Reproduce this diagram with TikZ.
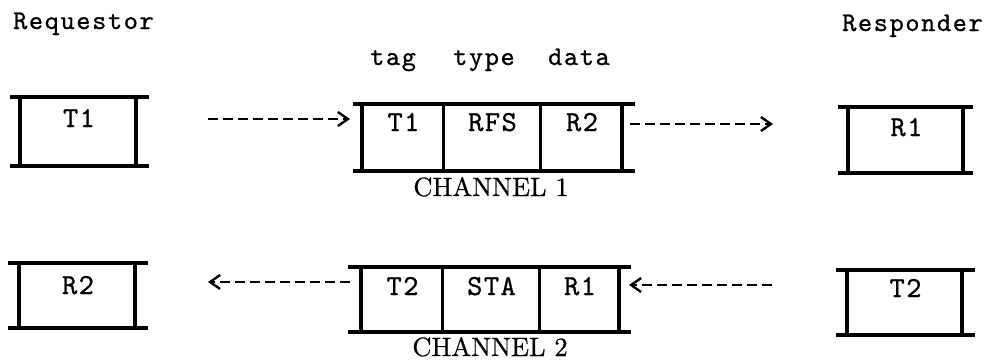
\documentclass[tikz,border=0pt]{standalone}
\usepackage{fontspec}
\newfontfamily\lblfont{lmmono10-regular.otf}[LetterSpace=6, FakeBold=0.8]
\newfontfamily\boxfont{lmmono10-regular.otf}[LetterSpace=5, FakeBold=0.8]
\newfontfamily\chanfont{lmroman10-regular.otf}[FakeBold=0.6]
\usetikzlibrary{arrows.meta}
\newcommand{\drawibox}[4]{% name-left, name-right, left ext, right ext
  \draw[bline] ([xshift=-#3pt]#1.north west) -- ([xshift=#4pt]#2.north east);
  \draw[bline] ([xshift=-#3pt]#1.south west) -- ([xshift=#4pt]#2.south east);
  \draw[bline] (#1.north west) -- (#1.south west);
  \draw[bline] (#2.north east) -- (#2.south east);
}
\tikzset{
  cell/.style={rectangle, draw=none, inner sep=0pt, outer sep=0pt},
  bline/.style={line width=3.2pt, line cap=rect},
  vline/.style={line width=3pt},
  lbl/.style={font=\lblfont\fontsize{27}{27}\selectfont, inner sep=0pt, anchor=base west},
  btext/.style={font=\boxfont\fontsize{29}{29}\selectfont, inner sep=0pt, anchor=base},
  chan/.style={font=\chanfont\fontsize{26.5}{26.5}\selectfont, inner sep=0pt, anchor=base},
  darr/.style={line width=2.8pt, dash pattern=on 10pt off 5pt,
    -{Straight Barb[length=10pt, width=14pt, line width=2.4pt]}},
}
\begin{document}
\begin{tikzpicture}[x=1pt, y=-1pt]
\useasboundingbox (0,0) rectangle (993,362);

% labels
\node[lbl] (req) at (13,29) {Requestor};
\node[lbl] (resp) at (842,31) {Responder};
\node[lbl] (tag) at (370,65) {tag};
\node[lbl] (type) at (453,65) {type};
\node[lbl] (data) at (548,65) {data};

% top row boxes
\node[cell, minimum width=116pt, minimum height=69pt] (t1) at (78,131.5) {};
\node[btext] (t1t) at (79,127) {T1};

\node[cell, minimum width=81pt, minimum height=67pt] (c1a) at (402.5,137.5) {};
\node[cell, minimum width=97pt, minimum height=67pt] (c1b) at (491.5,137.5) {};
\node[cell, minimum width=82pt, minimum height=67pt] (c1c) at (581,137.5) {};
\node[btext] (c1at) at (403.5,131) {T1};
\node[btext] (c1bt) at (492.5,131) {RFS};
\node[btext] (c1ct) at (582,131) {R2};
\node[chan] (ch1) at (491,196) {CHANNEL 1};

\node[cell, minimum width=115pt, minimum height=66pt] (r1) at (905.5,140) {};
\node[btext] (r1t) at (906.5,136) {R1};

% bottom row boxes
\node[cell, minimum width=116pt, minimum height=65pt] (r2) at (77,295.5) {};
\node[btext] (r2t) at (78,294) {R2};

\node[cell, minimum width=81pt, minimum height=65pt] (c2a) at (401.5,299.5) {};
\node[cell, minimum width=97pt, minimum height=65pt] (c2b) at (490.5,299.5) {};
\node[cell, minimum width=80pt, minimum height=65pt] (c2c) at (579,299.5) {};
\node[btext] (c2at) at (402.5,295) {T2};
\node[btext] (c2bt) at (491.5,295) {STA};
\node[btext] (c2ct) at (580,295) {R1};
\node[chan] (ch2) at (490,356) {CHANNEL 2};

\node[cell, minimum width=115pt, minimum height=65pt] (t2) at (904.5,302.5) {};
\node[btext] (t2t) at (905.5,297) {T2};

% box outlines
\drawibox{t1}{t1}{8}{11}
\drawibox{c1a}{c1c}{7}{11}
\draw[vline] (c1a.north east) -- (c1a.south east);
\draw[vline] (c1b.north east) -- (c1b.south east);
\drawibox{r1}{r1}{8}{8}
\drawibox{r2}{r2}{9}{11}
\drawibox{c2a}{c2c}{11}{10}
\draw[vline] (c2a.north east) -- (c2a.south east);
\draw[vline] (c2b.north east) -- (c2b.south east);
\drawibox{t2}{t2}{9}{11}

% connectors
\coordinate (a1s) at (208,119);
\coordinate (a2e) at (773,124);
\coordinate (a3e) at (208,282);
\coordinate (a4s) at (772,285);
\draw[darr, shorten >=12pt] (a1s) -- (a1s -| c1a.west);
\draw[darr, shorten <=8pt] (a2e -| c1c.east) -- (a2e);
\draw[darr, shorten <=11pt] (a3e -| c2a.west) -- (a3e);
\draw[darr, shorten >=10pt] (a4s) -- (a4s -| c2c.east);
\end{tikzpicture}
\end{document}
